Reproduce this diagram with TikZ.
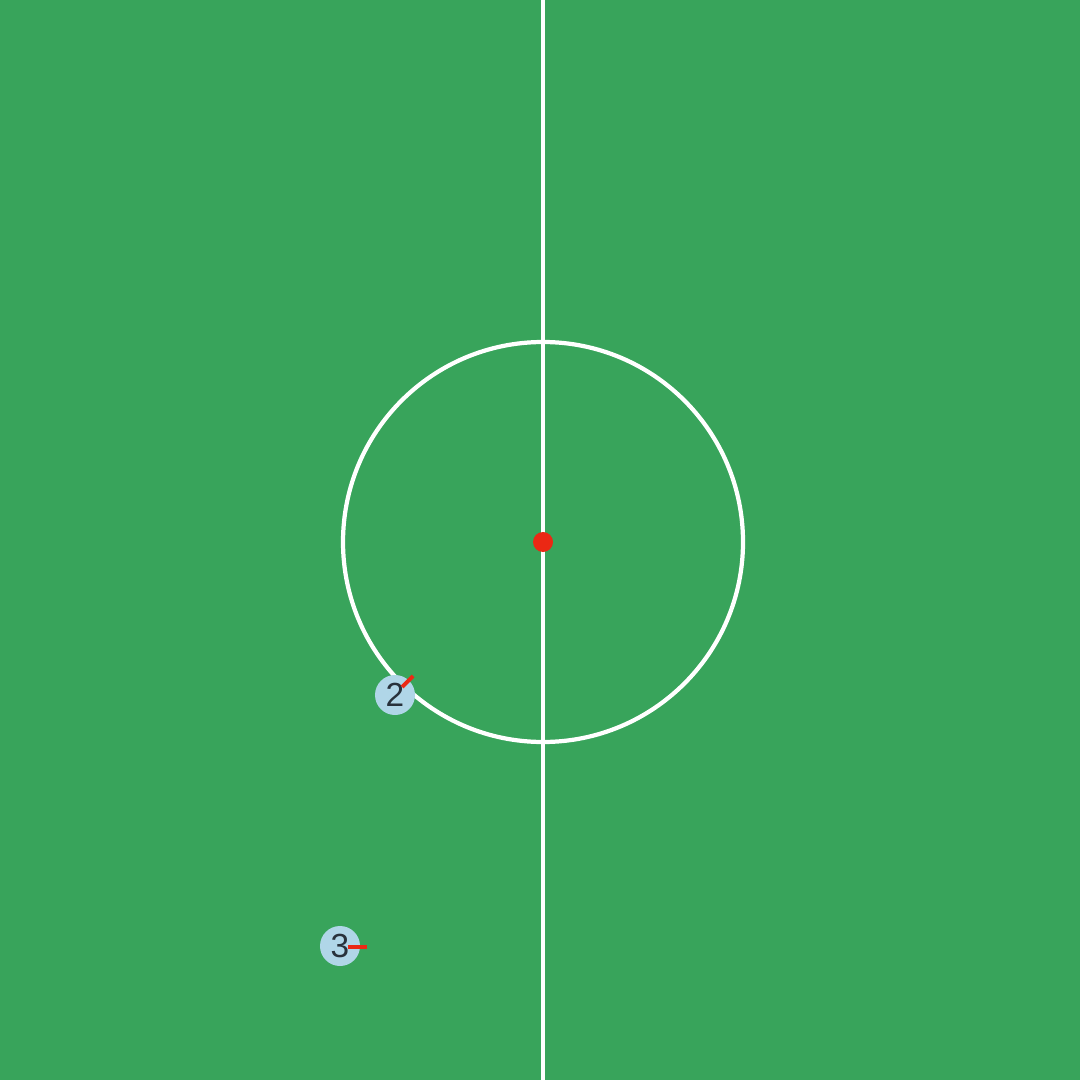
\documentclass[tikz,border=0pt]{standalone}
\usepackage{fontspec}
\setmainfont{Liberation Sans}
\definecolor{pitch}{RGB}{56,164,91}
\definecolor{playerfill}{RGB}{176,214,232}
\definecolor{textdark}{RGB}{40,50,60}
\definecolor{dirred}{RGB}{235,40,20}
\begin{document}
\begin{tikzpicture}[x=0.01cm,y=-0.01cm,
  fieldline/.style={draw=white,line width=1.2pt},
  player/.style={circle,fill=playerfill,minimum size=0.4cm,inner sep=0pt,text=textdark,font=\fontsize{9.5}{10}\selectfont},
  heading/.style={draw=dirred,line width=1.1pt}]
\fill[pitch] (0,0) rectangle (1080,1080);
\useasboundingbox (0,0) rectangle (1080,1080);
\coordinate (top) at (543,0);
\coordinate (bottom) at (543,1080);
\coordinate (centre) at (543,542);
\draw[fieldline] (top) -- (bottom);
\draw[fieldline] (centre) circle[radius=200];
\fill[dirred] (centre) circle[radius=10];
\node[player] (p2) at (395,695) {2};
\coordinate (h2) at (413,676);
\draw[heading] (402,687) -- (h2);
\node[player] (p3) at (340,946) {3};
\coordinate (h3) at (367,947);
\draw[heading] (348,947) -- (h3);
\end{tikzpicture}
\end{document}
